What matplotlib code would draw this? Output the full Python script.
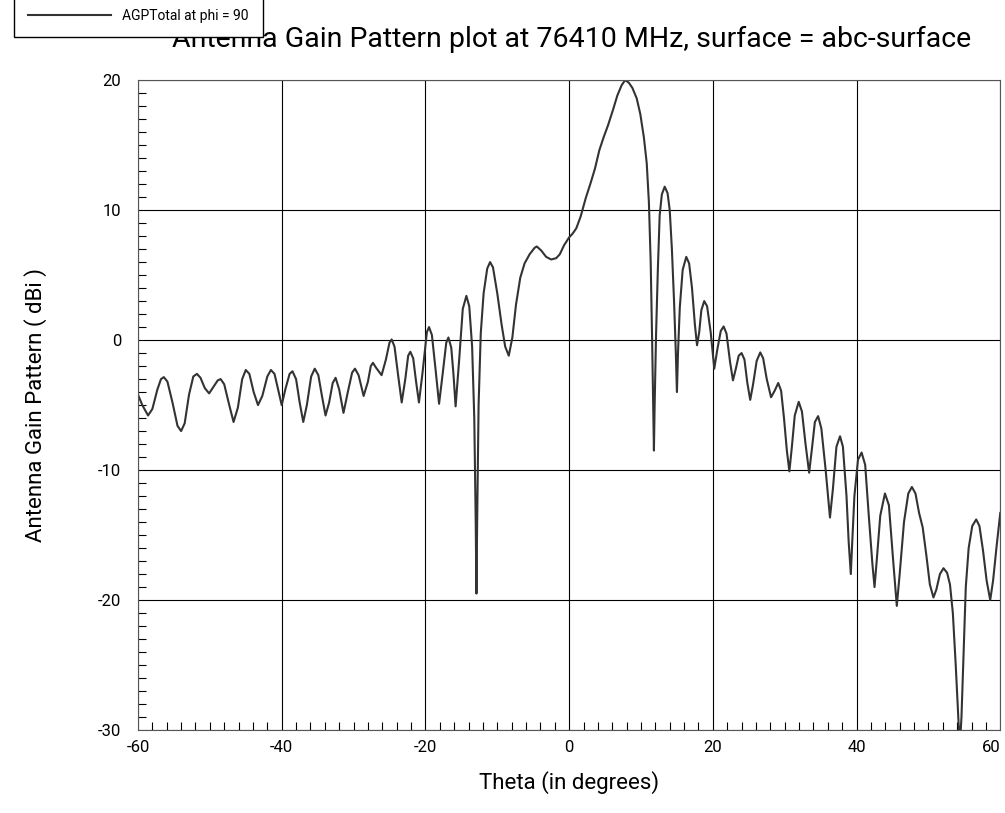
import matplotlib
matplotlib.use('Agg')
from matplotlib import pyplot as plt
from matplotlib.ticker import MultipleLocator

# values (theta in deg, gain in dBi)
theta = [
    -60.0, -59.4, -58.6, -58.0, -57.3, -56.8, -56.4, -55.9, -55.2, -54.5,
    -54.0, -53.5, -52.9, -52.3, -51.8, -51.3, -50.7, -50.1, -49.5, -48.9,
    -48.5, -48.0, -47.3, -46.7, -46.1, -45.5, -45.0, -44.5, -43.9, -43.3,
    -42.7, -42.0, -41.5, -41.0, -40.5, -40.0, -39.5, -38.9, -38.5, -38.0,
    -37.5, -37.0, -36.5, -35.9, -35.4, -34.9, -34.4, -33.9, -33.4, -32.9,
    -32.5, -32.0, -31.4, -30.8, -30.2, -29.8, -29.3, -28.6, -28.0, -27.6,
    -27.3, -26.9, -26.1, -25.5, -25.0, -24.7, -24.3, -23.8, -23.3, -22.8,
    -22.4, -22.1, -21.7, -21.3, -20.9, -20.4, -19.8, -19.5, -19.1, -18.6,
    -18.1, -17.6, -17.1, -16.8, -16.4, -16.1, -15.8, -15.3, -14.8, -14.3,
    -13.9, -13.5, -13.2, -13.0, -12.9, -12.8, -12.6, -12.3, -11.9, -11.4,
    -11.0, -10.6, -10.0, -9.4, -8.9, -8.4, -7.9, -7.4, -6.8, -6.2,
    -5.5, -4.8, -4.5, -3.9, -3.2, -2.5, -1.8, -1.3, -0.7, 0.0,
    0.5, 1.0, 1.6, 2.3, 3.0, 3.6, 4.2, 4.8, 5.4, 6.1,
    6.7, 7.3, 7.8, 8.3, 8.8, 9.4, 9.9, 10.4, 10.8, 11.1,
    11.35, 11.55, 11.7, 11.8, 11.9, 12.1, 12.35, 12.6, 12.9, 13.3,
    13.7, 14.0, 14.3, 14.6, 14.85, 15.0, 15.15, 15.4, 15.8, 16.3,
    16.7, 17.1, 17.5, 17.8, 18.1, 18.4, 18.8, 19.2, 19.7, 20.2,
    20.6, 21.1, 21.5, 21.9, 22.4, 22.8, 23.2, 23.6, 24.0, 24.4,
    24.8, 25.2, 25.6, 26.1, 26.6, 27.0, 27.5, 28.1, 28.6, 29.1,
    29.5, 29.9, 30.3, 30.65, 31.0, 31.4, 31.95, 32.4, 32.9, 33.4,
    33.8, 34.2, 34.65, 35.1, 35.7, 36.3, 36.7, 37.2, 37.7, 38.1,
    38.6, 38.9, 39.2, 39.4, 39.7, 40.2, 40.7, 41.2, 41.7, 42.2,
    42.5, 42.8, 43.3, 43.95, 44.5, 45.1, 45.6, 46.0, 46.6, 47.2,
    47.7, 48.2, 48.7, 49.2, 49.7, 50.2, 50.7, 51.1, 51.6, 52.1,
    52.6, 53.0, 53.4, 53.8, 54.2, 54.4, 54.6, 54.9, 55.2, 55.6,
    56.1, 56.65, 57.1, 57.6, 58.1, 58.6, 59.0, 59.5, 60.0,
]
gain = [
    -4.2, -5.0, -5.8, -5.3, -3.8, -3.0, -2.85, -3.2, -4.8, -6.6,
    -7.0, -6.4, -4.2, -2.8, -2.6, -2.9, -3.7, -4.1, -3.6, -3.1,
    -3.0, -3.4, -5.0, -6.3, -5.2, -3.0, -2.3, -2.6, -4.0, -5.0,
    -4.3, -2.8, -2.3, -2.6, -3.8, -5.0, -3.8, -2.6, -2.4, -3.0,
    -4.8, -6.3, -5.0, -2.8, -2.2, -2.7, -4.3, -5.8, -4.8, -3.3,
    -2.9, -3.8, -5.6, -4.0, -2.5, -2.2, -2.7, -4.3, -3.2, -2.0,
    -1.75, -2.1, -2.7, -1.5, -0.2, 0.05, -0.5, -2.7, -4.8, -3.0,
    -1.2, -0.9, -1.4, -3.2, -4.8, -2.5, 0.6, 1.0, 0.4, -2.2,
    -4.9, -2.6, -0.2, 0.2, -0.6, -2.6, -5.1, -1.5, 2.4, 3.4,
    2.6, -0.5, -6.0, -14.0, -19.5, -14.0, -5.0, 0.5, 3.6, 5.5,
    6.0, 5.6, 3.6, 1.2, -0.5, -1.2, 0.2, 2.7, 4.8, 5.9,
    6.6, 7.1, 7.2, 6.9, 6.4, 6.2, 6.3, 6.6, 7.3, 7.9,
    8.2, 8.6, 9.5, 10.9, 12.1, 13.2, 14.6, 15.6, 16.5, 17.7,
    18.8, 19.6, 20.0, 19.8, 19.4, 18.6, 17.4, 15.6, 13.6, 10.6,
    6.0, 0.0, -5.0, -8.5, -5.0, 0.5, 5.5, 9.6, 11.2, 11.8,
    11.3, 10.0, 7.0, 3.0, -1.0, -4.0, -1.0, 2.5, 5.4, 6.4,
    5.9, 4.0, 1.2, -0.4, 0.6, 2.3, 3.0, 2.6, 0.6, -2.2,
    -0.8, 0.7, 1.05, 0.5, -1.7, -3.1, -2.2, -1.2, -1.0, -1.5,
    -3.3, -4.6, -3.4, -1.6, -0.95, -1.4, -3.0, -4.4, -3.9, -3.3,
    -3.9, -6.0, -8.5, -10.1, -8.2, -5.8, -4.75, -5.5, -8.0, -10.2,
    -8.3, -6.3, -5.85, -6.8, -10.0, -13.65, -11.5, -8.2, -7.4, -8.2,
    -12.0, -15.5, -18.0, -15.5, -12.0, -9.2, -8.65, -9.6, -13.5, -17.2,
    -19.0, -17.0, -13.5, -11.8, -12.7, -17.0, -20.45, -18.0, -14.0, -11.8,
    -11.3, -11.8, -13.3, -14.4, -16.5, -18.8, -19.8, -19.2, -18.0, -17.55,
    -17.9, -18.8, -21.0, -25.0, -29.5, -31.0, -29.0, -24.0, -19.0, -16.0,
    -14.3, -13.8, -14.3, -16.2, -18.5, -20.0, -18.5, -15.8, -13.3,
]

x_ticks = [-60, -40, -20, 0, 20, 40, 60]
y_ticks = [-30, -20, -10, 0, 10, 20]

title = 'Antenna Gain Pattern plot at 76410 MHz, surface = abc-surface'
series_label = 'AGPTotal at phi = 90'

plt.rcParams['font.family'] = ['Roboto', 'DejaVu Sans']
plt.rcParams['axes.unicode_minus'] = False

fig = plt.figure(figsize=(10.05, 8.13), dpi=100)
ax = fig.add_axes([0.1373, 0.102, 0.858, 0.7995])

line, = ax.plot(theta, gain, color='#333333', lw=1.5, label=series_label)

ax.set_xlim(-60, 60)
ax.set_ylim(-30, 20)
ax.set_xticks(x_ticks)
ax.set_yticks(y_ticks)
ax.xaxis.set_minor_locator(MultipleLocator(2))
ax.yaxis.set_minor_locator(MultipleLocator(1))
ax.grid(which='major', c='black', lw=0.8)
ax.tick_params(which='both', direction='in', top=False, right=False,
               labelsize=12, width=0.8, colors='black')
ax.tick_params(axis='x', which='major', length=0, pad=7)
ax.tick_params(axis='y', which='major', length=0, pad=12)
ax.tick_params(which='minor', length=6)
for sp in ax.spines.values():
    sp.set_linewidth(0.8)
    sp.set_color('#555555')
# last x label sits inside the figure edge, as in the source
ax.get_xticklabels()[-1].set_horizontalalignment('right')

ax.set_xlabel('Theta (in degrees)', fontsize=16, labelpad=12)
ax.set_ylabel('Antenna Gain Pattern ( dBi )', fontsize=16, labelpad=37)
fig.text(0.569, 0.951, title, fontsize=20.5, ha='center', va='center')

fig.legend(handles=[line], loc='upper left', bbox_to_anchor=(0.007, 1.015),
           fontsize=10, frameon=True, fancybox=False, edgecolor='black',
           framealpha=1, handlelength=6, borderpad=1.0)

fig.savefig('out.png', dpi=100)
